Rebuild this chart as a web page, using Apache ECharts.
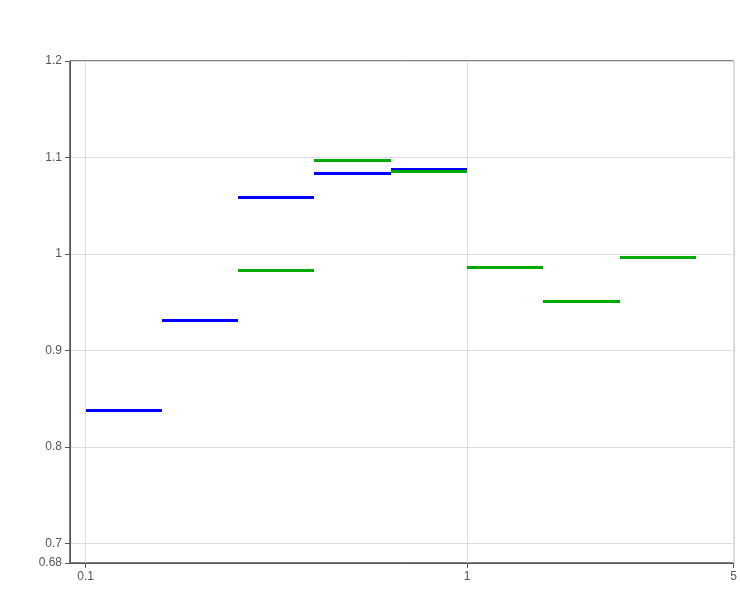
<!DOCTYPE html>
<html>
<head>
<meta charset="utf-8">
<script src="https://cdn.jsdelivr.net/npm/echarts@6/dist/echarts.min.js"></script>
<style>
  html, body { margin: 0; padding: 0; background: #fff; }
  #chart { width: 740px; height: 612px; }
</style>
</head>
<body>
<div id="chart"></div>
<script>
const binLow = [0.1, 0.1585, 0.2512, 0.3981, 0.631, 1.0, 1.585, 2.512];
const binHigh = [0.1585, 0.2512, 0.3981, 0.631, 1.0, 1.585, 2.512, 3.981];
const binCentre = [0.129, 0.205, 0.325, 0.515, 0.815, 1.29, 2.05, 3.25];
const circleVal = [0.838, 0.932, 1.059, 1.084, 1.088];
const circleErr = [0.045, 0.050, 0.051, 0.051, 0.050];
const starFirstBin = 2;
const starVal = [0.983, 1.097, 1.086, 0.987, 0.951, 0.997];
const starErr = [0.056, 0.057, 0.051, 0.040, 0.034, 0.029];

const RED = '#ff0000';

function rows(vals, errs, first) {
  return vals.map((v, i) => {
    const b = first + i;
    return [binCentre[b], v, binLow[b], binHigh[b], errs[i]];
  });
}
function crisp(v) { return Math.round(v) + 0.5; }
function seg(x1, y1, x2, y2, col, w) {
  return { type: 'line', shape: { x1: x1, y1: y1, x2: x2, y2: y2 }, style: { stroke: col, lineWidth: w } };
}
function makeRender(marker) {
  return function (params, api) {
    const xc = api.value(0), y = api.value(1), e = api.value(4);
    const c = api.coord([xc, y]);
    const pl = api.coord([api.value(2), y]);
    const ph = api.coord([api.value(3), y]);
    const cx = crisp(c[0]), cy = crisp(c[1]);
    const col = marker === 'circle' ? '#0000ff' : '#00aa00';
    return { type: 'group', children: [seg(Math.round(pl[0]), cy, Math.round(ph[0]), cy, col, 3)] };
  };
}
const chart = echarts.init(document.getElementById('chart'));
chart.setOption({
  animation: false,
  grid: { left: 70, right: 5, top: 61, bottom: 49, show: true, borderColor: '#000', borderWidth: 1 },
  xAxis: { type: 'log', min: 0.091, max: 5 },
  yAxis: { type: 'value', min: 0.68, max: 1.2 },
  series: [
    { type: 'custom', renderItem: makeRender('circle'), encode: { x: 0, y: 1 }, data: rows(circleVal, circleErr, 0) },
    { type: 'custom', renderItem: makeRender('star'), encode: { x: 0, y: 1 }, data: rows(starVal, starErr, starFirstBin) }
  ]
});
</script>
</body>
</html>
